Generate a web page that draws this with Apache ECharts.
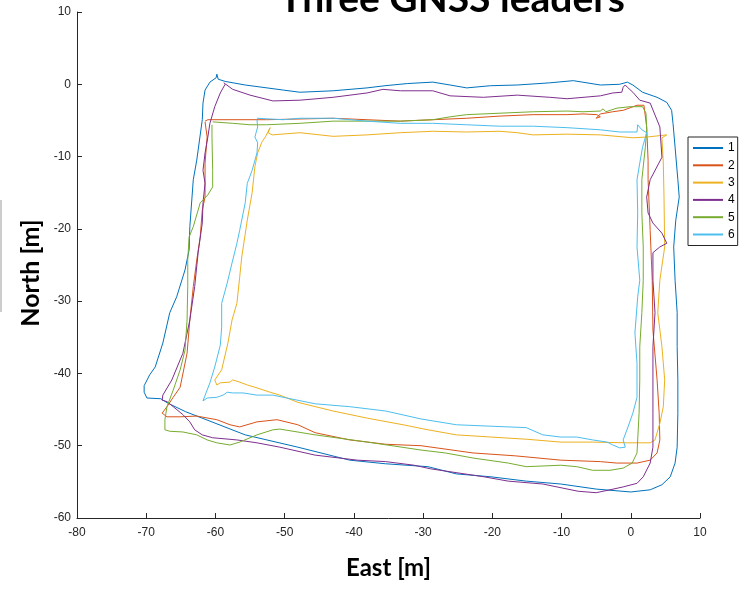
<!DOCTYPE html>
<html>
<head>
<meta charset="utf-8">
<script src="https://cdn.jsdelivr.net/npm/echarts@6/dist/echarts.min.js"></script>
<style>html,body{margin:0;padding:0;background:#fff}#c{width:740px;height:589px}</style>
</head>
<body>
<div id="c"></div>
<script>
// ---- data (East [m], North [m]) ----
const seriesNames = ['1','2','3','4','5','6'];
const xTicks = [-80,-70,-60,-50,-40,-30,-20,-10,0,10];
const yTicks = [-60,-50,-40,-30,-20,-10,0,10];

const east1  = [-59.8,-59.6,-58.6,-55.7,-50.2,-47.8,-43.0,-38.1,-35.5,-32.3,-28.6,-26.1,-23.7,-20.3,-16.4,-11.7,-8.3,-4.4,-1.6,-0.5,0.3,1.7,3.8,5.2,5.9,6.1,6.4,6.8,7.0,6.5,6.2,6.4,6.7,6.7,6.8,6.8,6.7,6.4,5.7,4.5,2.8,0.0,-5.0,-10.1,-15.1,-20.2,-25.2,-29.3,-35.4,-40.6,-48.1,-55.7,-60.8,-64.3,-66.9,-67.9,-69.9,-70.3,-70.3,-69.5,-68.7,-67.6,-66.6,-65.6,-64.4,-63.8,-63.7,-63.2,-62.7,-61.9,-61.8,-61.5,-60.8,-59.9,-59.8];
const north1 = [1.4,0.7,0.4,-0.1,-0.8,-1.1,-0.9,-0.5,-0.2,0.1,0.3,-0.1,-0.5,-0.2,-0.1,0.2,0.5,-0.1,0.0,0.3,-0.1,-1.1,-1.8,-2.5,-3.6,-5.4,-8.7,-13.2,-15.6,-18.8,-22.5,-27.1,-31.6,-36.3,-40.9,-45.5,-50.2,-52.4,-54.3,-55.4,-56.1,-56.4,-56.0,-55.3,-54.9,-54.3,-53.9,-52.9,-52.5,-52.0,-50.2,-48.5,-46.6,-45.3,-44.1,-43.5,-43.4,-42.6,-41.7,-40.2,-39.1,-35.8,-31.6,-29.4,-25.7,-22.9,-19.7,-13.2,-10.5,-4.9,-2.6,-0.8,0.3,0.9,1.4];

const east2  = [-61.5,-61.1,-52.6,-43.0,-38.1,-33.3,-28.6,-23.7,-18.9,-14.1,-9.2,-6.9,-4.9,-4.4,-5.0,-4.4,-2.6,-1.1,0.9,1.9,2.3,2.5,2.5,2.8,3.1,3.2,3.8,4.1,4.2,3.8,2.8,0.9,-2.0,-4.4,-10.1,-16.7,-22.8,-30.3,-35.4,-40.6,-45.6,-48.1,-51.1,-54.0,-56.5,-57.9,-59.8,-62.7,-65.1,-67.0,-67.7,-67.0,-66.1,-65.1,-64.1,-63.7,-63.2,-62.7,-62.2,-61.9,-61.5,-61.5,-61.2,-61.5];
const north2 = [-5.1,-4.9,-4.9,-4.7,-4.9,-5.1,-4.9,-4.7,-4.4,-4.2,-4.2,-4.1,-4.2,-4.5,-4.7,-4.1,-3.8,-3.6,-2.9,-2.9,-5.9,-10.5,-13.2,-20.2,-27.1,-34.0,-40.9,-45.5,-49.2,-51.0,-52.0,-52.4,-52.4,-52.2,-52.0,-51.4,-51.0,-50.0,-49.8,-49.2,-48.2,-47.1,-46.4,-46.7,-47.4,-47.1,-46.4,-45.9,-46.0,-46.0,-45.5,-44.6,-43.3,-41.9,-37.2,-32.6,-28.0,-24.3,-21.1,-17.4,-15.6,-10.9,-7.3,-5.2];

const east3  = [-52.1,-52.4,-51.8,-47.8,-43.0,-38.1,-33.3,-28.6,-23.7,-18.9,-16.4,-14.1,-9.2,-4.4,0.3,2.3,5.2,4.5,4.7,4.8,4.9,4.2,3.9,4.5,4.9,4.7,4.2,3.5,2.8,-0.5,-5.5,-10.1,-15.1,-20.2,-25.2,-29.3,-32.9,-38.0,-43.0,-48.1,-50.7,-52.1,-54.0,-55.4,-56.5,-57.5,-57.9,-59.3,-59.8,-60.1,-59.1,-58.2,-57.6,-56.9,-56.5,-56.2,-55.4,-54.7,-54.3,-53.9,-53.3,-52.8,-52.1];
const north3 = [-6.0,-6.7,-7.0,-6.7,-7.2,-7.0,-6.7,-6.5,-6.6,-6.5,-6.7,-7.0,-6.9,-7.0,-7.4,-7.3,-7.0,-7.4,-10.9,-15.6,-22.5,-27.1,-31.6,-36.3,-40.9,-44.6,-46.9,-49.2,-49.6,-49.6,-49.5,-49.5,-49.1,-48.8,-48.5,-47.8,-47.1,-46.2,-45.2,-44.0,-43.0,-42.6,-42.0,-41.6,-41.2,-40.9,-41.2,-41.3,-41.6,-40.9,-39.5,-35.8,-32.6,-30.3,-26.7,-23.9,-18.8,-15.0,-11.4,-9.5,-8.0,-7.3,-6.0];

const east4  = [-58.8,-57.5,-55.0,-51.7,-47.8,-43.0,-38.1,-35.8,-33.3,-28.6,-26.1,-21.3,-16.4,-11.7,-9.2,-4.4,-2.6,-1.3,-1.1,-0.8,-0.5,0.3,1.3,2.8,4.2,4.5,2.8,2.3,2.5,3.2,4.5,5.2,4.2,3.2,3.2,3.5,3.2,3.2,3.2,3.2,2.8,1.8,0.9,-1.1,-3.0,-5.0,-7.6,-12.7,-17.7,-21.2,-28.9,-31.3,-35.4,-39.5,-45.6,-50.7,-54.0,-56.9,-60.4,-61.9,-63.0,-63.7,-64.7,-66.1,-67.0,-67.7,-67.6,-66.3,-64.7,-63.7,-63.0,-62.5,-61.9,-61.8,-61.5,-61.8,-61.5,-61.1,-60.8,-60.1,-59.3,-58.6];
const north4 = [0.2,-0.7,-1.5,-2.3,-2.2,-1.8,-1.2,-0.7,-0.9,-0.9,-1.6,-1.8,-1.5,-1.8,-2.0,-1.6,-1.2,-1.1,-0.4,-0.1,-0.4,-1.1,-2.2,-2.6,-5.9,-10.1,-13.2,-15.6,-17.8,-19.2,-20.6,-22.0,-22.5,-23.3,-27.1,-31.6,-36.3,-40.9,-45.5,-50.2,-52.4,-54.3,-55.2,-55.7,-56.1,-56.5,-56.3,-55.3,-54.9,-54.3,-53.2,-52.7,-52.2,-52.0,-51.3,-50.2,-49.6,-49.2,-48.9,-48.5,-47.8,-46.7,-45.7,-44.6,-43.9,-43.7,-43.0,-40.9,-37.2,-32.6,-28.0,-23.3,-19.2,-16.4,-13.7,-11.9,-9.5,-7.3,-5.4,-3.1,-1.2,0.0];

const east5  = [-60.4,-57.5,-55.0,-52.6,-47.8,-43.0,-38.1,-33.3,-28.6,-26.1,-23.7,-18.9,-14.1,-9.2,-6.9,-4.4,-4.0,-3.6,-2.0,-0.1,1.7,2.2,2.3,2.1,1.6,1.6,1.8,1.8,1.6,1.3,1.3,1.2,1.0,0.9,0.2,-1.1,-3.0,-5.5,-7.8,-10.1,-15.1,-17.7,-22.8,-26.8,-30.3,-38.0,-45.6,-50.7,-51.7,-54.0,-56.5,-57.9,-59.8,-61.2,-62.7,-64.7,-66.6,-67.3,-67.3,-67.0,-66.1,-65.1,-64.4,-64.1,-64.0,-64.0,-63.8,-63.2,-62.2,-61.1,-60.4,-60.4,-60.5,-60.5];
const north5 = [-5.2,-5.4,-5.6,-5.6,-5.4,-5.1,-5.1,-5.1,-4.9,-4.5,-4.2,-4.0,-3.8,-3.7,-3.8,-3.7,-3.4,-3.8,-3.3,-3.1,-3.1,-4.0,-6.3,-8.7,-13.2,-17.8,-22.5,-27.1,-31.6,-36.3,-40.9,-45.5,-49.2,-51.0,-52.4,-53.1,-53.4,-53.4,-52.9,-52.7,-52.9,-52.4,-51.7,-51.0,-50.6,-49.5,-48.5,-47.7,-47.8,-48.5,-49.5,-49.9,-49.6,-49.2,-48.5,-48.1,-48.0,-47.8,-46.4,-44.6,-42.3,-39.5,-36.8,-32.6,-28.0,-24.3,-21.1,-19.7,-16.4,-15.3,-14.2,-11.9,-7.3,-5.6];

const east6  = [-54.0,-50.2,-47.8,-43.0,-38.1,-33.3,-28.6,-23.7,-18.9,-14.1,-9.2,-4.4,-1.6,0.9,1.0,1.6,2.3,1.7,1.3,0.9,1.0,0.9,1.3,1.0,0.6,0.9,0.9,0.3,-0.4,-1.1,-0.8,-1.6,-2.6,-3.4,-5.5,-7.8,-10.1,-12.7,-15.1,-20.2,-25.2,-30.3,-35.4,-40.6,-45.6,-49.7,-51.7,-54.0,-56.0,-57.5,-58.3,-58.9,-59.8,-61.2,-61.8,-61.2,-60.8,-60.1,-59.3,-59.1,-59.1,-58.3,-57.6,-56.9,-56.5,-55.7,-55.4,-54.7,-54.0,-53.9,-54.3,-53.9,-54.0];
const north6 = [-4.7,-4.9,-4.7,-4.7,-5.1,-5.4,-5.4,-5.6,-5.8,-5.8,-6.0,-6.3,-6.6,-6.6,-5.6,-6.3,-6.7,-8.7,-10.9,-13.2,-17.8,-22.5,-27.1,-29.4,-34.4,-38.6,-43.3,-45.5,-47.4,-49.2,-50.2,-50.3,-49.9,-49.5,-49.2,-48.8,-48.8,-48.5,-47.5,-47.3,-47.1,-46.3,-45.2,-44.6,-44.2,-43.4,-43.0,-43.0,-42.7,-42.7,-42.6,-43.0,-43.3,-43.4,-43.8,-42.3,-41.3,-39.1,-36.1,-33.6,-30.3,-27.5,-24.7,-22.0,-20.2,-16.4,-13.7,-11.9,-9.5,-8.1,-7.3,-5.9,-4.9];

const allEast  = [east1, east2, east3, east4, east5, east6];
const allNorth = [north1, north2, north3, north4, north5, north6];
const colors = ['#0072BD','#D95319','#EDB120','#7E2F8E','#77AC30','#4DBEEE'];

const series = seriesNames.map((n, i) => ({
  name: n,
  type: 'line',
  data: allEast[i].map((e, k) => [e, allNorth[i][k]]),
  symbol: 'none',
  showSymbol: false,
  smooth: false,
  clip: true,
  lineStyle: { width: 1, color: colors[i] },
  itemStyle: { color: colors[i] },
  animation: false
}));

const chart = echarts.init(document.getElementById('c'), null, { renderer: 'canvas' });
const axisCommon = {
  type: 'value',
  interval: 10,
  splitLine: { show: false },
  axisLine: { show: true, onZero: false, lineStyle: { color: '#262626', width: 1 } },
  axisTick: { show: true, inside: true, length: 5, lineStyle: { color: '#262626' } },
  axisLabel: { color: '#262626', fontSize: 12, fontFamily: 'Liberation Sans, Arial, sans-serif' }
};
chart.setOption({
  animation: false,
  backgroundColor: '#ffffff',
  grid: { left: 77, right: 40, top: 12, bottom: 71, containLabel: false },
  xAxis: Object.assign({}, axisCommon, {
    min: xTicks[0], max: xTicks[xTicks.length - 1],
    axisLabel: Object.assign({}, axisCommon.axisLabel, { margin: 9 }),
    name: 'East [m]', nameLocation: 'middle', nameGap: 38,
    nameTextStyle: { fontSize: 24, fontWeight: 'bold', color: '#000', fontFamily: 'Lato, Open Sans, sans-serif' }
  }),
  yAxis: Object.assign({}, axisCommon, {
    min: yTicks[0], max: yTicks[yTicks.length - 1],
    axisLabel: Object.assign({}, axisCommon.axisLabel, { margin: 6 })
  }),
  legend: {
    orient: 'vertical',
    left: 688, top: 137,
    data: seriesNames,
    icon: 'rect',
    itemWidth: 30, itemHeight: 2, itemGap: 5.3,
    padding: [5, 3, 5, 5],
    borderColor: '#262626', borderWidth: 1,
    backgroundColor: '#fff',
    textStyle: { fontSize: 12, color: '#000', lineHeight: 12, fontFamily: 'Liberation Sans, Arial, sans-serif' }
  },
  graphic: [
    { type: 'text', x: 452, y: -1,
      style: { text: 'Three GNSS leaders', fill: '#000', font: 'bold 39px Lato, "Open Sans", sans-serif', textAlign: 'center', textVerticalAlign: 'middle' } },
    { type: 'text', x: 31, y: 273, rotation: Math.PI / 2,
      style: { text: 'North [m]', fill: '#000', font: 'bold 25px Lato, "Open Sans", sans-serif', textAlign: 'center', textVerticalAlign: 'middle' } },
    { type: 'line', shape: { x1: 1, y1: 200, x2: 1, y2: 312 }, style: { stroke: '#999', lineWidth: 1 } }
  ],
  series: series
});
</script>
</body>
</html>
